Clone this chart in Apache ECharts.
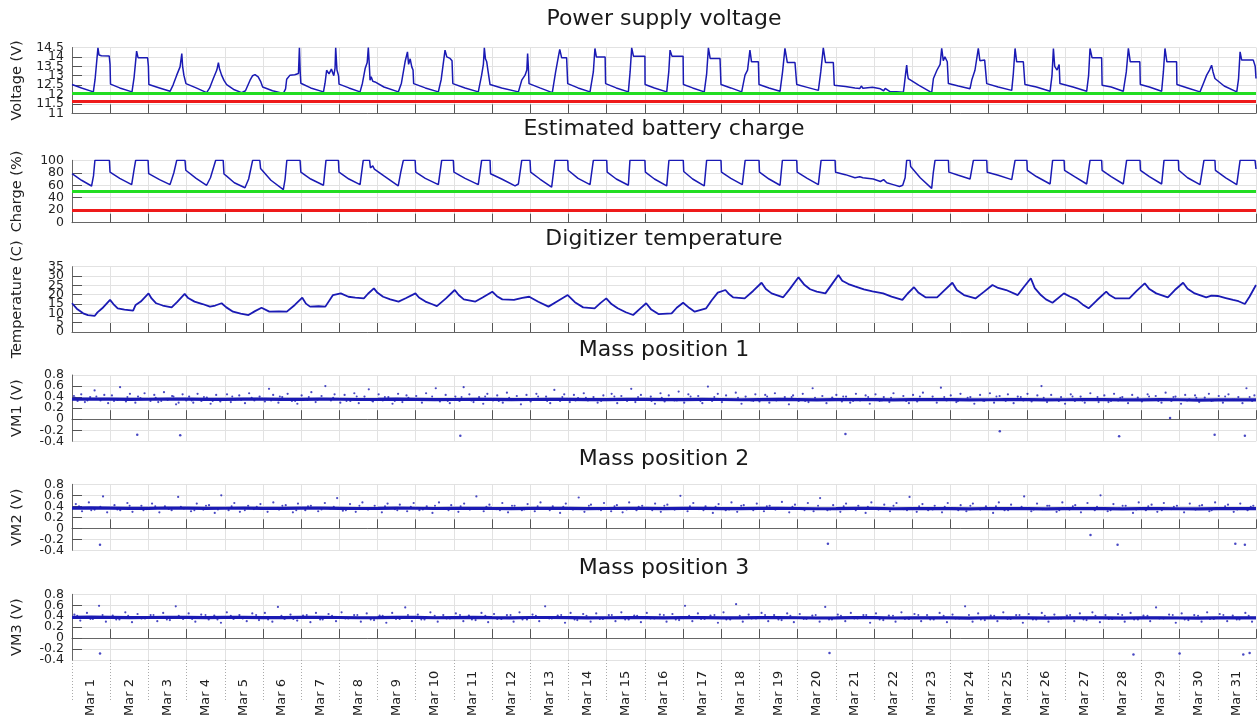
<!DOCTYPE html>
<html><head><meta charset="utf-8">
<script src="https://cdn.jsdelivr.net/npm/echarts@6/dist/echarts.min.js"></script>
<style>html,body{margin:0;padding:0;background:#fff}#c{width:1260px;height:723px}</style>
</head><body><div id="c"></div>
<script>
// ---------------- data (x = hours since Mar 1 00:00) ----------------
const dayLabels = ['Mar 1','Mar 2','Mar 3','Mar 4','Mar 5','Mar 6','Mar 7','Mar 8','Mar 9','Mar 10','Mar 11','Mar 12','Mar 13','Mar 14','Mar 15','Mar 16','Mar 17','Mar 18','Mar 19','Mar 20','Mar 21','Mar 22','Mar 23','Mar 24','Mar 25','Mar 26','Mar 27','Mar 28','Mar 29','Mar 30','Mar 31'];
const panelTitles = ['Power supply voltage','Estimated battery charge','Digitizer temperature','Mass position 1','Mass position 2','Mass position 3'];
const axisNames = ['Voltage (V)','Charge (%)','Temperature (C)','VM1 (V)','VM2 (V)','VM3 (V)'];
const voltLimits = [12.05, 11.65];
const chargeLimits = [50, 20];

const voltage = [[0,12.53],[6,12.35],[13.4,12.14],[14.5,12.8],[16.3,14.48],[17,14.1],[18.5,14.06],[23.4,14.05],[23.9,13.6],[24.2,12.55],
[30,12.35],[37.7,12.14],[39,12.9],[40.6,14.31],[41.5,13.96],[47.5,13.95],[48.0,13.5],[48.3,12.53],
[55,12.35],[61.6,12.17],[63.5,12.5],[65.8,13.03],[67.9,13.47],[69,14.18],[69.5,13.5],[70.3,13.03],[71.6,12.58],
[78,12.35],[84.6,12.1],[86.5,12.35],[88.8,12.85],[91,13.3],[92,13.7],[92.6,13.4],[94,13.03],[95.5,12.75],[97.2,12.53],
[102,12.25],[106.6,12.1],[109,12.2],[111.9,12.76],[113.5,13.0],[115,13.06],[117,12.94],[118.5,12.7],[119.8,12.4],[126,12.2],[132.8,12.06],
[134.2,12.3],[134.9,12.81],[137,13.03],[140,13.05],[142.3,13.12],[142.9,14.48],[143.4,13.2],[143.8,12.6],[144.3,12.53],
[150,12.35],[158,12.14],[159,12.6],[160,13.29],[161.5,13.1],[163,13.35],[164.5,13.0],[165.3,13.4],[165.7,14.48],[166.5,13.3],[167.5,13.0],[167.8,12.55],
[174,12.35],[181,12.14],[182.5,12.6],[184.2,13.38],[185.5,13.7],[186.2,14.5],[186.8,13.6],[187.3,12.76],[188,12.95],[189,12.7],[190.4,12.67],[196,12.4],
[205.1,12.14],[207,12.6],[209.3,13.74],[210.8,14.27],[211.5,13.6],[212.5,13.9],[213.5,13.47],[214.3,13.3],[214.7,12.58],
[222,12.35],[230.2,12.14],[232,12.8],[234.4,14.36],[235.5,14.0],[237.6,13.92],[238.8,13.8],[239.3,12.58],
[247,12.35],[255.3,12.14],[257.4,13.03],[258.5,13.6],[259.1,14.48],[259.8,13.9],[260.6,13.74],[261.5,13.2],[262.7,12.53],
[270,12.35],[280.5,12.14],[282.6,12.76],[284.7,13.03],[285.8,13.3],[286.3,14.18],[286.8,13.4],[287.2,12.58],
[294,12.35],[301.8,12.1],[303.9,13.2],[305.6,14.0],[306.5,14.4],[307.7,13.95],[310.8,13.95],[311.5,12.58],
[318,12.35],[325.5,12.14],[327.6,13.2],[328.6,14.45],[329.5,14.0],[335,14.0],[335.3,12.58],
[342,12.35],[349.6,12.14],[350.7,13.2],[351.7,14.48],[352.8,14.04],[360,14.04],[360.1,12.53],
[366,12.35],[373.7,12.14],[375,13.2],[375.8,14.36],[377,14.04],[384,14.04],[384.2,12.53],
[390,12.35],[397.3,12.14],[398.8,13.1],[399.9,14.48],[401,13.92],[407.2,13.92],[407.8,12.53],
[414,12.35],[420.8,12.14],[422.9,13.03],[424.5,13.3],[426,14.36],[427,13.74],[431.3,13.74],[431.7,12.53],
[438,12.35],[444.9,12.17],[446.5,13.2],[448,14.45],[449.5,13.7],[454.3,13.7],[455.4,12.53],
[462,12.38],[469,12.22],[470.5,13.2],[472.1,14.48],[473.5,13.7],[478.4,13.7],[479,12.49],
[486,12.42],[492,12.35],[495,12.32],[496,12.45],[497,12.33],[503,12.38],[508,12.3],[510,12.2],[511,12.32],[514,12.15],
[518,12.14],[522.4,12.12],[523,12.5],[523.8,13.1],[524.5,13.56],[525,13.1],[525.5,12.85],[532,12.5],[540.2,12.1],
[541.3,12.85],[543.5,13.29],[545.5,13.6],[546.5,14.45],[547.5,13.8],[548.5,14.0],[550,13.74],[550.7,12.58],
[557,12.45],[564.3,12.31],[565.5,12.8],[567.4,13.29],[569.5,14.45],[570.5,13.8],[573.5,13.83],[574.8,12.58],
[582,12.4],[590.5,12.22],[591.5,13.1],[592.6,14.45],[593.6,13.74],[597.8,13.74],[598.8,12.53],
[606,12.4],[614.6,12.17],[615.8,13.0],[616.7,14.45],[617.5,13.5],[619,13.3],[620.3,13.6],[620.8,12.58],
[629,12.4],[637.6,12.17],[638.8,13.0],[639.7,14.45],[641,13.95],[647,13.95],[647.3,12.49],
[653,12.4],[660.6,12.17],[662.5,13.2],[663.8,14.45],[665,13.74],[671,13.74],[671.3,12.53],
[677,12.4],[684.7,12.17],[685.8,13.2],[686.8,14.45],[688,13.74],[694.1,13.74],[694.3,12.53],
[701,12.35],[708.8,12.14],[711,12.6],[713,13.03],[714.8,13.3],[716.1,13.56],[717,13.2],[718.2,12.85],[724,12.45],[731.9,12.14],
[733,12.8],[734,14.27],[735,13.83],[742.3,13.83],[743.5,13.5],[744,12.85]];

const charge = [[0,78.5],[6,68],[12.3,58.8],[13.5,75],[14.4,100],[23.5,100],[23.9,81],
[30,71],[37.5,61],[39,85],[40,100],[47.8,100],[48.2,78.5],
[55,69],[61.6,61],[64,80],[65.8,100],[71,100],[71.5,84],
[78,71],[84.6,60],[87,72],[90.3,100],[95,100],[95.5,78],[97,75],
[102,64],[108.7,56],[111,70],[113.5,100],[118,100],[118.5,87],[125,68],[132.8,53],
[133.9,70],[135,100],[143.3,100],[143.8,81],
[150,70],[158,60],[159.6,100],[167.4,100],[167.8,81],
[174,70],[181,61],[183,100],[187,100],[187.5,88],[189,91],[190,86],[191,87],[196,75],
[205,59],[206.5,80],[208.2,100],[215.6,100],[216,81],
[222,71],[230.2,61],[232.3,100],[239.6,100],[240,81],
[247,71],[255.3,61],[257.4,100],[262.7,100],[263,78.5],
[270,70],[278.4,59],[280.5,62],[282.6,100],[287.8,100],[288.2,81],
[294,70],[301.4,57],[303.5,100],[311.5,100],[311.8,84],
[318,71],[325.5,61],[327.6,100],[336,100],[336.3,81],
[342,70],[349.6,60],[350.6,100],[360,100],[360.3,81],
[366,70],[373.7,59],[375.1,100],[384.1,100],[384.4,82],
[390,70],[397.3,59],[398.8,100],[407.8,100],[408.1,81],
[414,71],[421.2,61],[423,100],[431.7,100],[432,81],
[438,70],[444.9,60],[446.4,100],[455.4,100],[455.7,81],
[462,71],[469,61],[470.7,100],[479.5,100],[479.8,81],
[486,77],[492,72],[495,73.5],[496,76],[497,72],[503.5,70],[508,66],[510,69],[512,64],[516,61],
[520,58],[522,60],[523,68],[523.5,72],[524.5,100],[526.6,100],[527,90],[533,72],[540.2,55],
[541.2,80],[542.3,100],[550.7,100],[551,81],
[557,76],[564.3,70],[566.4,100],[574.8,100],[575.1,81],
[582,76],[590.5,69],[592.6,100],[600,100],[600.3,84],
[606,74],[614.6,62],[616.2,100],[623.4,100],[623.7,84],
[630,74],[637.6,62],[639.7,100],[647,100],[647.3,84],
[653,74],[660.6,62],[662.7,100],[671.1,100],[671.4,84],
[677,74],[684.7,62],[686.2,100],[695.2,100],[695.5,84],
[701,72],[708.8,61],[711.3,100],[718.2,100],[718.5,84],[725,72],[731.9,61],
[734,100],[743.4,100],[744,86]];

const temperature = [[0,15.4],[3,12.5],[7,10],[10,9.0],[14.2,8.6],[16,10.5],[19,12.7],[23.9,17.2],[26,15],[28.7,12.7],[33,12.0],[38.4,11.4],[40,14.5],[43.2,16.3],[48.1,20.7],[50,18],[52.9,15.4],[57,14.2],[62.6,13.2],[66,16],[70.8,20.4],[73,18.2],[77,16.3],[82,15.0],[86.7,13.6],[90,14.2],[94,15.4],[97,13.2],[101.2,10.9],[106,9.8],[110.9,9.1],[115,11.2],[119.1,13.0],[124,10.9],[130,11.0],[135,10.9],[140,14.5],[144.7,18.4],[147,15.2],[149.6,13.6],[155,13.8],[159.2,13.6],[164,19.8],[168.9,20.7],[173.7,18.9],[178,18.4],[183.4,18.0],[186,20.5],[189.7,23.4],[192,21],[195.5,18.9],[200,17.5],[205.2,16.3],[210,18.2],[215.8,20.7],[218,18.5],[222.1,16.3],[226,15],[229.3,13.9],[235,18],[240.5,22.5],[243,19.8],[246.2,17.5],[253.5,16.3],[258,18.5],[264.1,21.6],[267,19.2],[270.4,17.5],[277.7,17.2],[283,18.3],[287.3,18.9],[293,16.2],[299.4,13.6],[305,16.5],[311.5,19.8],[316,16],[321.2,13.2],[328.4,12.7],[332,15.5],[335.7,18.0],[339,15],[342.9,12.7],[348,10.6],[352.6,9.1],[357,12.5],[360.8,15.4],[364,12],[368.5,9.6],[376.8,10.0],[380,13],[384,15.7],[388,12.8],[391.3,10.9],[398.5,12.7],[402,17],[405.8,21.1],[410.6,22.5],[413,20.2],[415.4,18.6],[422.7,18.0],[428,22],[433.3,26.4],[436,23],[439.6,20.7],[446.9,18.6],[451,23],[456.5,29.3],[460,25.5],[463.8,22.9],[468,21.6],[473.4,20.7],[477,25],[481.6,30.5],[484,27.5],[487.9,25.7],[492,24.5],[497.6,22.9],[503,21.8],[509.7,20.7],[515,19],[521.8,17.2],[525,20.5],[529.1,24.0],[532,21],[536.3,18.6],[543.6,18.6],[548,22.2],[553.2,26.4],[556,22.5],[560.5,19.8],[567.7,18.0],[573,21.5],[578.4,25.2],[582,23.6],[587,22.5],[594.3,19.8],[598,24],[602.5,28.8],[605,23.5],[608.8,19.8],[612,17.5],[616.1,15.7],[623.3,20.7],[627,19],[631.5,17.2],[635,14.8],[638.8,12.7],[644,17],[649.9,21.6],[652,19.8],[655.7,18.0],[664.4,18.0],[669,22],[674.1,26.1],[677,23],[681.3,20.7],[688.6,18.6],[693,22.5],[698.2,26.4],[701,23.2],[705.5,20.7],[712.7,18.6],[716,19.5],[720,19.3],[725,18.2],[729.6,17.2],[733,16.5],[737,15.0],[740,19],[744,25.2]];

const vm1Line = [[0,.362],[12,.366],[24,.365],[36,.360],[48,.361],[60,.365],[72,.363],[84,.359],[96,.360],[108,.364],[120,.362],[132,.358],[144,.359],[156,.363],[168,.361],[180,.357],[192,.358],[204,.362],[216,.360],[228,.356],[240,.357],[252,.361],[264,.359],[276,.355],[288,.357],[300,.360],[312,.358],[324,.354],[336,.356],[348,.359],[360,.358],[372,.353],[384,.355],[396,.358],[408,.357],[420,.352],[432,.355],[444,.358],[456,.356],[468,.351],[480,.354],[492,.357],[504,.355],[516,.350],[528,.353],[540,.356],[552,.355],[564,.349],[576,.352],[588,.355],[600,.354],[612,.349],[624,.352],[636,.354],[648,.353],[660,.348],[672,.351],[684,.353],[696,.352],[708,.347],[720,.350],[732,.352],[744,.351]];
const vm2Line = [[0,.366],[12,.370],[24,.368],[36,.363],[48,.364],[60,.369],[72,.367],[84,.362],[96,.365],[108,.367],[120,.363],[132,.361],[144,.366],[156,.367],[168,.364],[180,.360],[192,.362],[204,.366],[216,.365],[228,.360],[240,.363],[252,.365],[264,.361],[276,.359],[288,.364],[300,.364],[312,.362],[324,.358],[336,.360],[348,.364],[360,.363],[372,.357],[384,.361],[396,.362],[408,.359],[420,.356],[432,.362],[444,.361],[456,.360],[468,.355],[480,.358],[492,.362],[504,.361],[516,.355],[528,.359],[540,.360],[552,.357],[564,.354],[576,.360],[588,.359],[600,.358],[612,.353],[624,.356],[636,.359],[648,.359],[660,.353],[672,.357],[684,.357],[696,.355],[708,.352],[720,.357],[732,.356],[744,.356]];
const vm3Line = [[0,.378],[12,.382],[24,.380],[36,.375],[48,.376],[60,.381],[72,.379],[84,.374],[96,.377],[108,.379],[120,.375],[132,.373],[144,.378],[156,.379],[168,.376],[180,.372],[192,.374],[204,.378],[216,.377],[228,.372],[240,.375],[252,.377],[264,.373],[276,.371],[288,.376],[300,.376],[312,.374],[324,.370],[336,.372],[348,.376],[360,.375],[372,.369],[384,.373],[396,.374],[408,.371],[420,.368],[432,.374],[444,.373],[456,.372],[468,.367],[480,.370],[492,.374],[504,.373],[516,.367],[528,.371],[540,.372],[552,.369],[564,.366],[576,.372],[588,.371],[600,.370],[612,.365],[624,.368],[636,.371],[648,.371],[660,.365],[672,.369],[684,.369],[696,.367],[708,.364],[720,.369],[732,.368],[744,.368]];

const vm1Dots = [[1.2,.42],[3.5,.33],[5.8,.45],[8.1,.31],[11.4,.40],[14.2,.52],[17.9,.34],[20.3,.44],[22.7,.29],
[25.1,.43],[28.6,.35],[30.2,.58],[33.9,.32],[36.4,.46],[39.8,.30],[41.5,.41],[43.0,.38],[45.6,.47],
[49.3,.33],[51.7,.44],[54.2,.31],[57.8,.49],[60.1,.35],[62.9,.42],[65.4,.27],[67.0,.30],[69.5,.45],[71.8,.34],
[73.6,.41],[76.2,.30],[78.9,.46],[81.3,.33],[84.7,.39],[87.1,.28],[90.6,.44],[93.2,.32],
[97.4,.45],[99.8,.31],[102.5,.36],[105.1,.43],[108.7,.29],[111.3,.47],[114.6,.34],[117.9,.41],
[121.2,.32],[123.8,.55],[126.4,.44],[129.7,.30],[132.1,.40],[135.5,.46],[138.2,.33],[141.6,.28],
[144.3,.43],[147.9,.35],[150.4,.49],[153.1,.31],[156.8,.42],[159.2,.60],[162.7,.34],[165.0,.45],
[168.6,.30],[171.3,.44],[174.9,.33],[177.4,.47],[180.2,.29],[183.8,.41],[186.5,.54],[189.1,.32],
[192.7,.45],[195.3,.34],[198.8,.40],[201.4,.28],[204.9,.46],[207.6,.31],[210.2,.43],[213.7,.36],
[216.3,.42],[219.9,.30],[222.5,.47],[225.1,.35],[228.6,.56],[231.2,.32],[234.8,.44],[237.4,.29],
[240.9,.41],[243.5,.33],[246.1,.58],[249.7,.45],[252.3,.31],[255.8,.40],[258.4,.28],[261.0,.46],
[264.6,.34],[267.2,.43],[270.7,.30],[273.3,.48],[276.9,.35],[279.5,.42],[282.1,.27],[285.6,.44],
[288.2,.32],[291.8,.46],[294.4,.36],[297.9,.41],[300.5,.29],[303.1,.53],[306.7,.33],[309.3,.45],
[312.8,.31],[315.4,.44],[318.0,.38],[321.6,.47],[324.2,.34],[327.7,.40],[330.3,.30],[333.9,.43],
[336.5,.36],[339.1,.46],[342.6,.29],[345.2,.42],[348.8,.33],[351.4,.55],[354.0,.31],[357.5,.44],
[360.1,.35],[363.7,.41],[366.3,.28],[369.8,.47],[372.4,.32],[375.0,.43],[378.6,.34],[381.2,.50],
[384.7,.30],[387.3,.45],[390.9,.36],[393.5,.42],[396.1,.29],[399.6,.59],[402.2,.33],[405.8,.46],
[408.4,.31],[411.0,.43],[414.5,.35],[417.1,.48],[420.7,.28],[423.3,.41],[426.8,.34],[429.4,.45],
[432.0,.32],[435.6,.44],[438.2,.30],[441.7,.47],[444.3,.36],[447.9,.40],[450.5,.27],[453.1,.43],
[456.6,.33],[459.2,.46],[462.8,.31],[465.4,.56],[468.0,.35],[471.5,.42],[474.1,.29],[477.7,.39],
[480.3,.44],[483.8,.32],[486.4,.41],[489.0,.30],[492.6,.46],[495.2,.34],[498.7,.43],[501.3,.28],
[504.9,.45],[507.5,.33],[510.1,.40],[513.6,.31],[516.2,.47],[519.8,.35],[522.4,.42],[525.9,.29],
[528.5,.44],[531.1,.32],[534.7,.48],[537.3,.36],[540.8,.41],[543.4,.30],[546.0,.57],[549.6,.34],
[552.2,.43],[555.7,.31],[558.3,.46],[561.9,.35],[564.5,.40],[567.0,.28],[570.6,.44],[573.2,.33],
[576.8,.47],[579.4,.30],[582.9,.42],[585.5,.36],[588.1,.45],[591.7,.29],[594.3,.41],[597.8,.34],
[600.4,.46],[603.0,.32],[606.6,.43],[609.2,.60],[612.7,.31],[615.3,.44],[618.9,.35],[621.5,.40],
[624.0,.28],[627.6,.45],[630.2,.33],[633.8,.41],[636.4,.30],[639.9,.47],[642.5,.36],[645.1,.31],
[648.7,.43],[651.3,.31],[654.8,.46],[657.4,.34],[660.0,.40],[663.6,.29],[666.2,.44],[669.7,.39],
[672.3,.32],[675.9,.45],[678.5,.35],[681.0,.42],[684.6,.30],[687.2,.48],[690.8,.33],[693.4,.41],
[696.9,.28],[699.5,.44],[702.1,.36],[705.7,.43],[708.3,.31],[711.8,.39],[714.4,.46],[717.0,.34],
[720.6,.42],[723.2,.30],[726.7,.45],[729.3,.35],[732.9,.40],[735.5,.29],[738.0,.56],[741.6,.33],[743.0,.43]];
const vm1Near = [[2.1,.39],[9.7,.34],[15.3,.41],[26.4,.33],[34.8,.40],[38.2,.35],[52.6,.39],[56.1,.33],[63.8,.41],[75.2,.34],[82.9,.40],[88.4,.33],[100.7,.41],[106.3,.35],[112.9,.39],[125.1,.34],[130.6,.41],[140.2,.33],[148.8,.40],[154.3,.35],[164.1,.39],[172.5,.33],[178.9,.41],[188.2,.34],[196.6,.40],[202.8,.33],[211.4,.39],[220.7,.35],[226.3,.41],[236.1,.33],[244.8,.40],[250.9,.34],[259.6,.41],[268.2,.33],[274.7,.39],[284.3,.35],[292.9,.41],[298.6,.33],[308.1,.40],[316.4,.34],[322.9,.39],[332.5,.33],[340.8,.41],[346.3,.35],[355.7,.40],[364.2,.33],[370.6,.39],[380.1,.34],[388.7,.41],[394.9,.33],[403.6,.40],[412.3,.35],[418.5,.39],[428.1,.33],[436.8,.41],[442.6,.34],[452.2,.40],[460.7,.33],[466.9,.39],[476.4,.35],[484.6,.41],[490.8,.33],[500.3,.40],[508.9,.34],[514.7,.39],[524.2,.33],[532.8,.41],[538.6,.35],[548.1,.40],[556.7,.33],[562.8,.39],[572.3,.34],[580.9,.41],[586.7,.33],[596.2,.40],[604.8,.35],[610.6,.39],[620.1,.33],[628.7,.41],[634.9,.34],[644.4,.40],[652.9,.33],[658.7,.39],[668.2,.35],[676.8,.41],[682.6,.33],[692.1,.40],[700.7,.34],[706.5,.39],[716.0,.33],[724.6,.41],[730.4,.35],[740.0,.40]];
const vm1Outliers = [[41,-.28],[68,-.29],[244,-.3],[486,-.27],[583,-.22],[658,-.31],[690,.02],[718,-.28],[737,-.3]];

const vm2Dots = [[2.4,.44],[6.3,.31],[10.6,.47],[14.2,.34],[19.5,.58],[22.1,.29],
[26.7,.42],[30.3,.33],[34.8,.46],[38.0,.30],[43.6,.41],[46.7,.35],
[50.3,.45],[54.9,.29],[58.4,.40],[62.6,.33],[66.7,.57],[70.3,.36],
[74.8,.31],[78.4,.45],[82.5,.34],[86.1,.42],[89.7,.28],[93.8,.60],
[98.4,.33],[102.0,.46],[105.5,.30],[110.7,.41],[114.3,.35],[118.4,.44],
[122.9,.30],[126.5,.47],[130.1,.34],[134.3,.42],[138.8,.29],[142.0,.45],
[146.6,.33],[150.1,.41],[154.7,.31],[158.9,.46],[162.4,.36],[166.6,.55],
[170.2,.32],[174.7,.44],[178.3,.30],[182.5,.47],[186.0,.34],[190.2,.41],
[194.7,.29],[198.3,.45],[202.9,.35],[206.0,.43],[210.6,.31],[214.7,.46],
[218.3,.33],[222.9,.40],[226.5,.28],[230.6,.47],[234.2,.36],[238.3,.42],
[242.8,.30],[246.4,.45],[250.0,.34],[254.1,.58],[258.7,.31],[262.3,.43],
[266.8,.35],[270.4,.46],[274.0,.29],[278.1,.41],[282.7,.33],[286.3,.44],
[290.8,.31],[294.4,.47],[298.0,.36],[302.1,.40],[306.7,.28],[310.3,.45],
[314.8,.34],[318.4,.56],[322.0,.30],[326.1,.43],[330.7,.35],[334.3,.46],
[338.8,.31],[342.4,.42],[346.0,.29],[350.1,.47],[354.7,.33],[358.3,.41],
[362.8,.36],[366.4,.45],[370.0,.30],[374.1,.43],[378.7,.34],[382.3,.59],
[386.8,.31],[390.4,.46],[394.0,.35],[398.1,.40],[402.7,.28],[406.3,.44],
[410.8,.33],[414.4,.47],[418.0,.30],[422.1,.42],[426.7,.36],[430.3,.45],
[434.8,.31],[438.4,.41],[442.0,.34],[446.1,.48],[450.7,.29],[454.3,.43],
[458.8,.35],[462.4,.46],[466.0,.31],[470.1,.55],[474.7,.33],[478.3,.42],
[482.8,.30],[486.4,.45],[490.0,.36],[494.1,.41],[498.7,.28],[502.3,.47],
[506.8,.34],[510.4,.43],[514.0,.31],[518.1,.46],[522.7,.35],[526.3,.57],
[530.8,.30],[534.4,.44],[538.0,.33],[542.1,.41],[546.7,.29],[550.3,.46],
[554.8,.36],[558.4,.42],[562.0,.31],[566.1,.45],[570.7,.34],[574.3,.40],
[578.8,.28],[582.4,.47],[586.0,.33],[590.1,.43],[594.7,.36],[598.3,.58],
[602.8,.31],[606.4,.45],[610.0,.35],[614.1,.41],[618.7,.30],[622.3,.47],
[626.8,.34],[630.4,.42],[634.0,.29],[638.1,.46],[642.7,.33],[646.3,.60],
[650.8,.31],[654.4,.44],[658.0,.36],[662.1,.41],[666.7,.28],[670.3,.47],
[674.8,.33],[678.4,.43],[682.0,.30],[686.1,.46],[690.7,.35],[694.3,.41],
[698.8,.29],[702.4,.45],[706.0,.34],[710.1,.42],[714.7,.31],[718.3,.47],
[722.8,.36],[726.4,.43],[730.0,.30],[734.1,.45],[738.7,.33],[742.3,.41]];
const vm2Near = [[4.4,.40],[12.1,.33],[17.8,.39],[28.5,.34],[36.2,.41],[44.9,.33],[52.3,.40],[60.8,.35],[68.4,.39],[76.9,.33],[84.2,.41],[91.7,.34],[100.3,.40],[108.6,.33],[116.1,.39],[124.7,.35],[132.2,.41],[140.9,.33],[148.3,.40],[156.8,.34],[164.5,.39],[172.1,.33],[180.6,.41],[188.2,.35],[196.7,.40],[204.4,.33],[212.9,.39],[220.5,.34],[228.1,.41],[236.6,.33],[244.2,.40],[252.8,.35],[260.4,.39],[268.9,.33],[276.5,.41],[284.1,.34],[292.6,.40],[300.2,.33],[308.7,.39],[316.3,.35],[324.8,.41],[332.4,.33],[340.9,.40],[348.5,.34],[356.1,.39],[364.6,.33],[372.2,.41],[380.7,.35],[388.3,.40],[396.8,.33],[404.4,.39],[412.9,.34],[420.5,.41],[428.1,.33],[436.6,.40],[444.2,.35],[452.7,.39],[460.3,.33],[468.8,.41],[476.4,.34],[484.9,.40],[492.5,.33],[500.1,.39],[508.6,.35],[516.2,.41],[524.7,.33],[532.3,.40],[540.8,.34],[548.4,.39],[556.9,.33],[564.5,.41],[572.1,.35],[580.6,.40],[588.2,.33],[596.7,.39],[604.3,.34],[612.8,.41],[620.4,.33],[628.9,.40],[636.5,.35],[644.1,.39],[652.6,.33],[660.2,.41],[668.7,.34],[676.3,.40],[684.8,.33],[692.4,.39],[700.9,.35],[708.5,.41],[716.1,.33],[724.6,.40],[732.2,.34],[740.7,.39]];
const vm2Outliers = [[17.6,-.3],[475,-.28],[640,-.12],[657,-.3],[731,-.28],[737,-.3]];

const vm3Dots = [[1.5,.43],[5.2,.32],[9.4,.46],[13.1,.35],[17.0,.59],[21.3,.30],
[25.6,.41],[29.8,.34],[33.5,.47],[37.7,.29],[41.2,.44],[45.9,.36],
[49.4,.42],[53.6,.31],[57.3,.46],[61.5,.33],[65.2,.58],[69.8,.35],
[73.3,.45],[77.5,.30],[81.2,.43],[85.9,.34],[89.4,.41],[93.6,.28],
[97.3,.47],[101.5,.35],[105.2,.42],[109.8,.31],[113.3,.45],[117.5,.33],
[121.2,.46],[125.9,.30],[129.4,.57],[133.6,.35],[137.3,.43],[141.5,.32],
[145.2,.41],[149.8,.29],[153.3,.46],[157.5,.34],[161.2,.44],[165.9,.31],
[169.4,.47],[173.6,.36],[177.3,.42],[181.5,.30],[185.2,.45],[189.8,.33],
[193.3,.41],[197.5,.28],[201.2,.46],[205.9,.35],[209.4,.56],[213.6,.31],
[217.3,.43],[221.5,.34],[225.2,.47],[229.8,.30],[233.3,.42],[237.5,.36],
[241.2,.45],[245.9,.31],[249.4,.41],[253.6,.33],[257.3,.46],[261.5,.29],
[265.2,.44],[269.8,.35],[273.3,.42],[277.5,.30],[281.2,.47],[285.9,.34],
[289.4,.43],[293.6,.31],[297.3,.58],[301.5,.36],[305.2,.41],[309.8,.28],
[313.3,.46],[317.5,.33],[321.2,.44],[325.9,.30],[329.4,.45],[333.6,.35],
[337.3,.42],[341.5,.31],[345.2,.47],[349.8,.34],[353.3,.41],[357.5,.29],
[361.2,.46],[365.9,.36],[369.4,.43],[373.6,.30],[377.3,.44],[381.5,.33],
[385.2,.59],[389.8,.31],[393.3,.45],[397.5,.35],[401.2,.41],[405.9,.28],
[409.4,.47],[413.6,.34],[417.3,.62],[421.5,.30],[425.2,.43],[429.8,.36],
[433.3,.46],[437.5,.31],[441.2,.42],[445.9,.33],[449.4,.45],[453.6,.29],
[457.3,.44],[461.5,.35],[465.2,.41],[469.8,.30],[473.3,.57],[477.5,.34],
[481.2,.43],[485.9,.31],[489.4,.46],[493.6,.36],[497.3,.42],[501.5,.28],
[505.2,.45],[509.8,.33],[513.3,.41],[517.5,.30],[521.2,.47],[525.9,.35],
[529.4,.44],[533.6,.31],[537.3,.42],[541.5,.34],[545.2,.46],[549.8,.29],
[553.3,.43],[557.5,.36],[561.2,.58],[565.9,.30],[569.4,.45],[573.6,.33],
[577.3,.41],[581.5,.31],[585.2,.47],[589.8,.35],[593.3,.42],[597.5,.28],
[601.2,.44],[605.9,.34],[609.4,.46],[613.6,.30],[617.3,.43],[621.5,.36],
[625.2,.41],[629.8,.31],[633.3,.45],[637.5,.33],[641.2,.47],[645.9,.29],
[649.4,.42],[653.6,.35],[657.3,.44],[661.5,.30],[665.2,.46],[669.8,.34],
[673.3,.41],[677.5,.31],[681.2,.56],[685.9,.36],[689.4,.43],[693.6,.28],
[697.3,.45],[701.5,.33],[705.2,.42],[709.8,.30],[713.3,.47],[717.5,.35],
[721.2,.44],[725.9,.31],[729.4,.41],[733.6,.34],[737.3,.46],[741.5,.30]];
const vm3Near = [[3.3,.41],[11.6,.35],[19.2,.42],[27.8,.34],[35.3,.41],[43.7,.36],[51.2,.42],[59.6,.34],[67.1,.41],[75.5,.35],[83.9,.42],[91.4,.34],[99.8,.41],[107.3,.36],[115.7,.42],[123.2,.34],[131.6,.41],[139.1,.35],[147.5,.42],[155.9,.34],[163.4,.41],[171.8,.36],[179.3,.42],[187.7,.34],[195.2,.41],[203.6,.35],[211.1,.42],[219.5,.34],[227.9,.41],[235.4,.36],[243.8,.42],[251.3,.34],[259.7,.41],[267.2,.35],[275.6,.42],[283.1,.34],[291.5,.41],[299.9,.36],[307.4,.42],[315.8,.34],[323.3,.41],[331.7,.35],[339.2,.42],[347.6,.34],[355.1,.41],[363.5,.36],[371.9,.42],[379.4,.34],[387.8,.41],[395.3,.35],[403.7,.42],[411.2,.34],[419.6,.41],[427.1,.36],[435.5,.42],[443.9,.34],[451.4,.41],[459.8,.35],[467.3,.42],[475.7,.34],[483.2,.41],[491.6,.36],[499.1,.42],[507.5,.34],[515.9,.41],[523.4,.35],[531.8,.42],[539.3,.34],[547.7,.41],[555.2,.36],[563.6,.42],[571.1,.34],[579.5,.41],[587.9,.35],[595.4,.42],[603.8,.34],[611.3,.41],[619.7,.36],[627.2,.42],[635.6,.34],[643.1,.41],[651.5,.35],[659.9,.42],[667.4,.34],[675.8,.41],[683.3,.36],[691.7,.42],[699.2,.34],[707.6,.41],[715.1,.35],[723.5,.42],[731.9,.34],[739.4,.41]];
const vm3Outliers = [[17.6,-.28],[476,-.27],[667,-.3],[696,-.28],[736,-.3],[740,-.27]];

// ---------------- layout / style ----------------
const FONT = 'DejaVu Sans';
const BLUE = '#1a1ab4';
const TXT = '#222222';
const LEFT = 72, RIGHT = 4;
const layout = [
  {top:47.5, h:65.8, min:11, max:14.5, step:0.5, ty:19},
  {top:160.3, h:62.4, min:0, max:100, step:20, ty:129},
  {top:266.7, h:65.3, min:0, max:35, step:5, ty:239},
  {top:375, h:66.3, min:-0.4, max:0.8, step:0.2, ty:350},
  {top:484.3, h:66, min:-0.4, max:0.8, step:0.2, ty:459},
  {top:594.3, h:65.7, min:-0.4, max:0.8, step:0.2, ty:568}
];
const labelStyle = {fontFamily:FONT, fontSize:12.5, color:TXT};

const grids = [], xAxes = [], yAxes = [];
layout.forEach((p, i) => {
  grids.push({left:LEFT, right:RIGHT, top:p.top, height:p.h, containLabel:false, outerBoundsMode:'none'});
  xAxes.push({type:'value', gridIndex:i, min:0, max:744, interval:24,
    axisLine:{show:true, lineStyle:{color:'#666', width:1}},
    axisTick:{show:true, inside:true, length:9, lineStyle:{color:'#555'}},
    axisLabel:{show:false},
    splitLine:{show:true, lineStyle:{color:'#e2e2e2', width:1}}});
  // primary axis: line, ticks, grid, inner labels
  yAxes.push({type:'value', gridIndex:i, min:p.min, max:p.max, interval:p.step,
    name:axisNames[i], nameLocation:'middle', nameGap:47,
    nameTextStyle:{fontFamily:FONT, fontSize:14.5, color:TXT},
    axisLine:{show:true, lineStyle:{color:'#666', width:1}},
    axisTick:{show:true, inside:true, length:10, lineStyle:{color:'#555'}},
    axisLabel:Object.assign({show:true, margin:8, hideOverlap:false}, labelStyle),
    splitLine:{show:true, lineStyle:{color:'#e2e2e2', width:1}}});
  // companion axis: only the end labels (min / max)
  yAxes.push({type:'value', gridIndex:i, min:p.min, max:p.max, position:'left',
    axisLine:{show:false}, axisTick:{show:false}, splitLine:{show:false},
    axisLabel:Object.assign({show:true, margin:8, hideOverlap:false, showMinLabel:true, showMaxLabel:true,
      customValues:[p.min, p.max]}, labelStyle)});
});
// dotted separators under the last panel
grids.push({left:LEFT, right:RIGHT, top:660, height:40, containLabel:false, outerBoundsMode:'none'});
xAxes.push({type:'value', gridIndex:6, min:0, max:744, interval:24,
  axisLine:{show:false}, axisTick:{show:false}, axisLabel:{show:false},
  splitLine:{show:true, lineStyle:{color:'#aaaaaa', type:[1,2], width:1}}});
yAxes.push({type:'value', gridIndex:6, show:false});
// day labels
grids.push({left:LEFT, right:RIGHT, top:718, height:1, containLabel:false, outerBoundsMode:'none'});
xAxes.push({type:'category', gridIndex:7, position:'top', data:dayLabels, boundaryGap:true,
  axisLine:{show:false}, axisTick:{show:false}, splitLine:{show:false},
  axisLabel:{show:true, interval:0, rotate:90, margin:2, fontFamily:FONT, fontSize:13, color:TXT}});
yAxes.push({type:'value', gridIndex:7, show:false});

function limitLine(vals) {
  return {silent:true, symbol:['none','none'], label:{show:false},
    data: vals.map((v, k) => ({yAxis:v, lineStyle:{color: k === 0 ? '#22dd22' : '#ee1a1a', width:3.2, type:'solid'}}))};
}
function lineSeries(i, data, width, extra) {
  return Object.assign({type:'line', xAxisIndex:i, yAxisIndex:2 * i, data:data, showSymbol:false,
    symbol:'none', lineStyle:{color:BLUE, width:width}, itemStyle:{color:BLUE}, z:3, animation:false}, extra || {});
}
function dotSeries(i, data, size) {
  return {type:'scatter', xAxisIndex:i, yAxisIndex:2 * i, data:data, symbolSize:size,
    itemStyle:{color:'#1a1ab4'}, z:4, animation:false};
}

const series = [
  lineSeries(0, voltage, 1.5, {markLine: limitLine(voltLimits)}),
  lineSeries(1, charge, 1.5, {markLine: limitLine(chargeLimits)}),
  lineSeries(2, temperature, 1.8),
  lineSeries(3, vm1Line, 3.2), dotSeries(3, vm1Dots, 2.2), dotSeries(3, vm1Near, 2), dotSeries(3, vm1Outliers, 2.5),
  lineSeries(4, vm2Line, 3.2), dotSeries(4, vm2Dots, 2.2), dotSeries(4, vm2Near, 2), dotSeries(4, vm2Outliers, 2.5),
  lineSeries(5, vm3Line, 3.2), dotSeries(5, vm3Dots, 2.2), dotSeries(5, vm3Near, 2), dotSeries(5, vm3Outliers, 2.5)
];

const graphic = panelTitles.map((t, i) => ({type:'text', x:664, y:layout[i].ty, silent:true,
  style:{text:t, fontFamily:FONT, fontSize:22, fill:'#1a1a1a', textAlign:'center', textVerticalAlign:'middle', align:'center', verticalAlign:'middle'}}));

const chart = echarts.init(document.getElementById('c'), null, {renderer:'canvas'});
chart.setOption({animation:false, backgroundColor:'#ffffff', grid:grids, xAxis:xAxes, yAxis:yAxes, series:series, graphic:graphic});
</script></body></html>
